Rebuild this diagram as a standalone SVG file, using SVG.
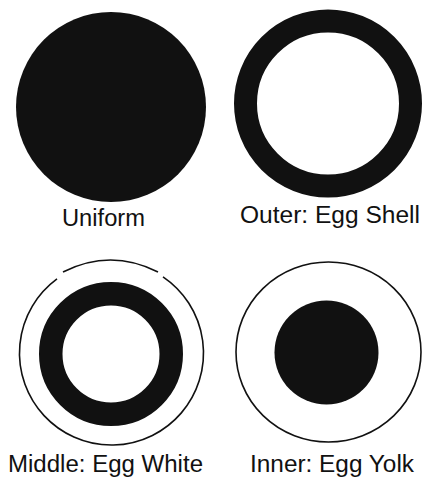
<svg xmlns="http://www.w3.org/2000/svg" width="422" height="478" viewBox="0 0 422 478">
<style>
.lbl{font-family:"Liberation Sans",Arial,sans-serif;font-size:23px;fill:#111;text-anchor:start}
.thin{fill:none;stroke:#111;stroke-width:1.6}
.blk{fill:#111}
</style>
<rect width="422" height="478" fill="#fff"/>
<g id="uniform">
<circle class="blk" cx="111" cy="107" r="95"/>
<text class="lbl" x="62" y="226" textLength="83" lengthAdjust="spacingAndGlyphs">Uniform</text>
</g>
<g id="outer">
<circle cx="328" cy="103.5" r="82.5" fill="none" stroke="#111" stroke-width="23"/>
<text class="lbl" x="240" y="223" textLength="180" lengthAdjust="spacingAndGlyphs">Outer: Egg Shell</text>
</g>
<g id="middle">
<path class="thin" d="M163 276.8 A92 92 0 1 1 57 278.9"/>
<path class="thin" d="M63 272 Q110.5 248 158 272"/>
<circle cx="111" cy="354" r="60.25" fill="none" stroke="#111" stroke-width="23.5"/>
<text class="lbl" x="8" y="472" textLength="195" lengthAdjust="spacingAndGlyphs">Middle: Egg White</text>
</g>
<g id="inner">
<ellipse class="thin" cx="328.5" cy="352" rx="92.5" ry="90"/>
<circle class="blk" cx="326.5" cy="352.5" r="52"/>
<text class="lbl" x="250" y="472" textLength="164" lengthAdjust="spacingAndGlyphs">Inner: Egg Yolk</text>
</g>
<g id="connectors"/>
</svg>
